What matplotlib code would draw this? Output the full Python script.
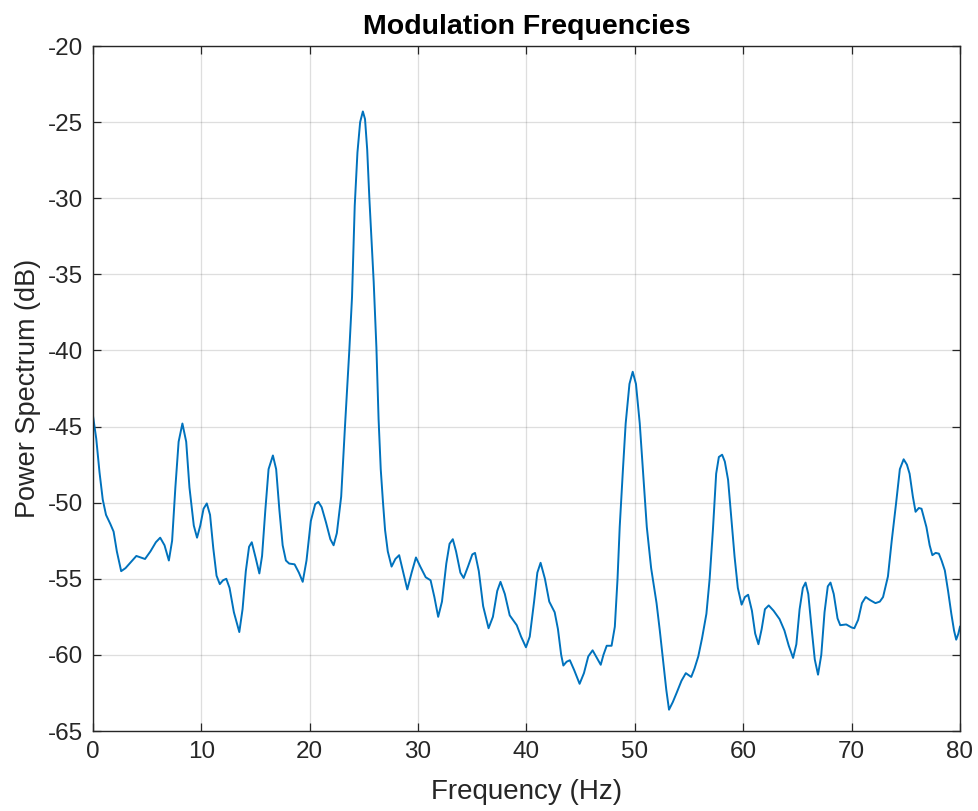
import matplotlib
matplotlib.use("Agg")
import matplotlib.pyplot as plt

title = "Modulation Frequencies"
xlabel = "Frequency (Hz)"
ylabel = "Power Spectrum (dB)"
xticks = [0, 10, 20, 30, 40, 50, 60, 70, 80]
yticks = [-65, -60, -55, -50, -45, -40, -35, -30, -25, -20]

freq = [0.0, 0.3, 0.6, 0.9, 1.2, 1.6, 1.9, 2.2, 2.6, 3.0, 3.5, 4.0, 4.4, 4.8, 5.3, 5.8, 6.2, 6.6, 7.0, 7.3,
        7.6, 7.9, 8.25, 8.6, 8.9, 9.3, 9.6, 9.9, 10.2, 10.5, 10.8, 11.1, 11.4, 11.7, 12.0, 12.3, 12.6, 13.0, 13.5, 13.8,
        14.1, 14.4, 14.65, 15.0, 15.35, 15.6, 15.9, 16.2, 16.6, 16.9, 17.2, 17.5, 17.8, 18.1, 18.6, 19.0, 19.35, 19.7, 20.1, 20.5,
        20.8, 21.1, 21.5, 21.9, 22.2, 22.5, 22.9, 23.25, 23.65, 23.9, 24.15, 24.4, 24.65, 24.9, 25.1, 25.3, 25.5, 25.7, 25.9, 26.15,
        26.35, 26.55, 26.75, 26.95, 27.2, 27.55, 27.9, 28.25, 28.6, 29.0, 29.4, 29.8, 30.2, 30.7, 31.15, 31.5, 31.85, 32.2, 32.6, 32.9,
        33.2, 33.5, 33.9, 34.2, 34.6, 35.0, 35.25, 35.6, 36.0, 36.5, 36.9, 37.3, 37.6, 38.0, 38.45, 39.1, 39.5, 39.95, 40.3, 40.7,
        41.0, 41.3, 41.7, 42.1, 42.6, 42.9, 43.2, 43.4, 43.7, 44.0, 44.4, 44.9, 45.3, 45.7, 46.1, 46.5, 46.85, 47.1, 47.4, 47.85,
        48.15, 48.4, 48.6, 48.9, 49.15, 49.5, 49.8, 50.1, 50.45, 50.8, 51.1, 51.5, 52.0, 52.3, 52.6, 52.9, 53.15, 53.5, 53.85, 54.3,
        54.7, 55.2, 55.5, 55.85, 56.2, 56.6, 56.9, 57.2, 57.5, 57.75, 58.05, 58.3, 58.6, 58.9, 59.2, 59.5, 59.85, 60.15, 60.45, 60.8,
        61.1, 61.4, 61.7, 62.0, 62.35, 62.8, 63.35, 63.8, 64.2, 64.6, 64.9, 65.2, 65.5, 65.75, 66.0, 66.3, 66.6, 66.9, 67.2, 67.5,
        67.8, 68.05, 68.35, 68.7, 68.95, 69.5, 70.0, 70.25, 70.6, 70.95, 71.3, 71.7, 72.2, 72.6, 72.9, 73.35, 73.7, 74.1, 74.45, 74.8,
        75.1, 75.35, 75.65, 75.9, 76.2, 76.45, 76.9, 77.2, 77.45, 77.75, 78.05, 78.3, 78.6, 78.9, 79.2, 79.45, 79.65, 79.85, 80.0]

power_db = [-44.3, -45.8, -48.0, -49.8, -50.8, -51.4, -51.9, -53.2, -54.5, -54.3, -53.9, -53.5, -53.6, -53.7, -53.2, -52.6, -52.3, -52.8, -53.8, -52.5,
            -49.0, -46.0, -44.8, -46.0, -49.0, -51.5, -52.3, -51.5, -50.4, -50.05, -50.8, -53.0, -54.8, -55.35, -55.1, -55.0, -55.6, -57.2, -58.5, -57.0,
            -54.5, -52.9, -52.6, -53.6, -54.65, -53.5, -50.5, -47.8, -46.9, -47.8, -50.5, -52.8, -53.8, -54.0, -54.05, -54.6, -55.2, -53.8, -51.2, -50.1,
            -49.95, -50.3, -51.3, -52.4, -52.8, -52.0, -49.6, -45.0, -40.0, -36.5, -30.5, -27.0, -25.0, -24.3, -24.8, -26.8, -30.0, -32.8, -35.5, -39.8,
            -44.5, -47.8, -49.9, -51.8, -53.2, -54.2, -53.7, -53.45, -54.5, -55.7, -54.6, -53.6, -54.2, -54.9, -55.1, -56.2, -57.5, -56.5, -54.0, -52.7,
            -52.4, -53.2, -54.6, -54.95, -54.2, -53.4, -53.3, -54.5, -56.8, -58.25, -57.5, -55.8, -55.2, -56.0, -57.4, -58.05, -58.8, -59.5, -58.8, -56.5,
            -54.6, -53.95, -55.0, -56.5, -57.2, -58.3, -60.0, -60.7, -60.45, -60.35, -61.0, -61.9, -61.2, -60.1, -59.7, -60.2, -60.65, -60.0, -59.4, -59.4,
            -58.15, -55.0, -51.6, -47.8, -44.8, -42.2, -41.4, -42.2, -44.8, -48.5, -51.6, -54.3, -56.6, -58.4, -60.35, -62.3, -63.6, -63.1, -62.5, -61.7,
            -61.2, -61.45, -60.9, -60.1, -58.9, -57.3, -55.0, -51.8, -48.1, -47.0, -46.85, -47.3, -48.5, -51.0, -53.55, -55.6, -56.7, -56.2, -56.05, -57.1,
            -58.6, -59.3, -58.3, -57.0, -56.75, -57.1, -57.65, -58.4, -59.4, -60.2, -59.3, -57.0, -55.6, -55.25, -56.0, -58.2, -60.3, -61.3, -60.0, -57.2,
            -55.5, -55.25, -56.0, -57.6, -58.05, -58.0, -58.2, -58.25, -57.7, -56.6, -56.2, -56.4, -56.6, -56.5, -56.2, -54.85, -52.5, -50.05, -47.8, -47.15,
            -47.5, -48.1, -49.6, -50.6, -50.35, -50.4, -51.6, -52.8, -53.45, -53.3, -53.35, -53.8, -54.45, -55.8, -57.3, -58.4, -59.0, -58.6, -58.15]

plt.rcParams['font.family'] = ['Liberation Sans', 'DejaVu Sans']

fig = plt.figure(figsize=(9.79, 8.11), dpi=100)
ax = fig.add_axes([93/979, 1 - 731/811, (960 - 93)/979, (731 - 46)/811])

ax.plot(freq, power_db, color='#0072BD', linewidth=1.4, solid_joinstyle='round')

ax.set_xlim(0, 80)
ax.set_ylim(-65, -20)
ax.set_xticks(xticks)
ax.set_yticks(yticks)
ax.set_xticklabels([str(v) for v in xticks])
ax.set_yticklabels([str(v) for v in yticks])

axcol = '#262626'
ax.grid(True, color='#262626', alpha=0.15, linewidth=0.9)
ax.set_axisbelow(True)
for s in ax.spines.values():
    s.set_color(axcol)
    s.set_linewidth(1.0)
ax.tick_params(direction='in', length=6, width=0.9, colors=axcol,
               top=True, right=True, labelsize=17.5, pad=7)
for lab in ax.get_xticklabels() + ax.get_yticklabels():
    lab.set_color('#262626')

ax.set_title(title, fontsize=20.5, fontweight='bold', color='black', pad=9)
ax.set_xlabel(xlabel, fontsize=20, color='#262626', labelpad=12)
ax.set_ylabel(ylabel, fontsize=19.5, color='#262626', labelpad=5)

fig.savefig('out.png', dpi=100)
